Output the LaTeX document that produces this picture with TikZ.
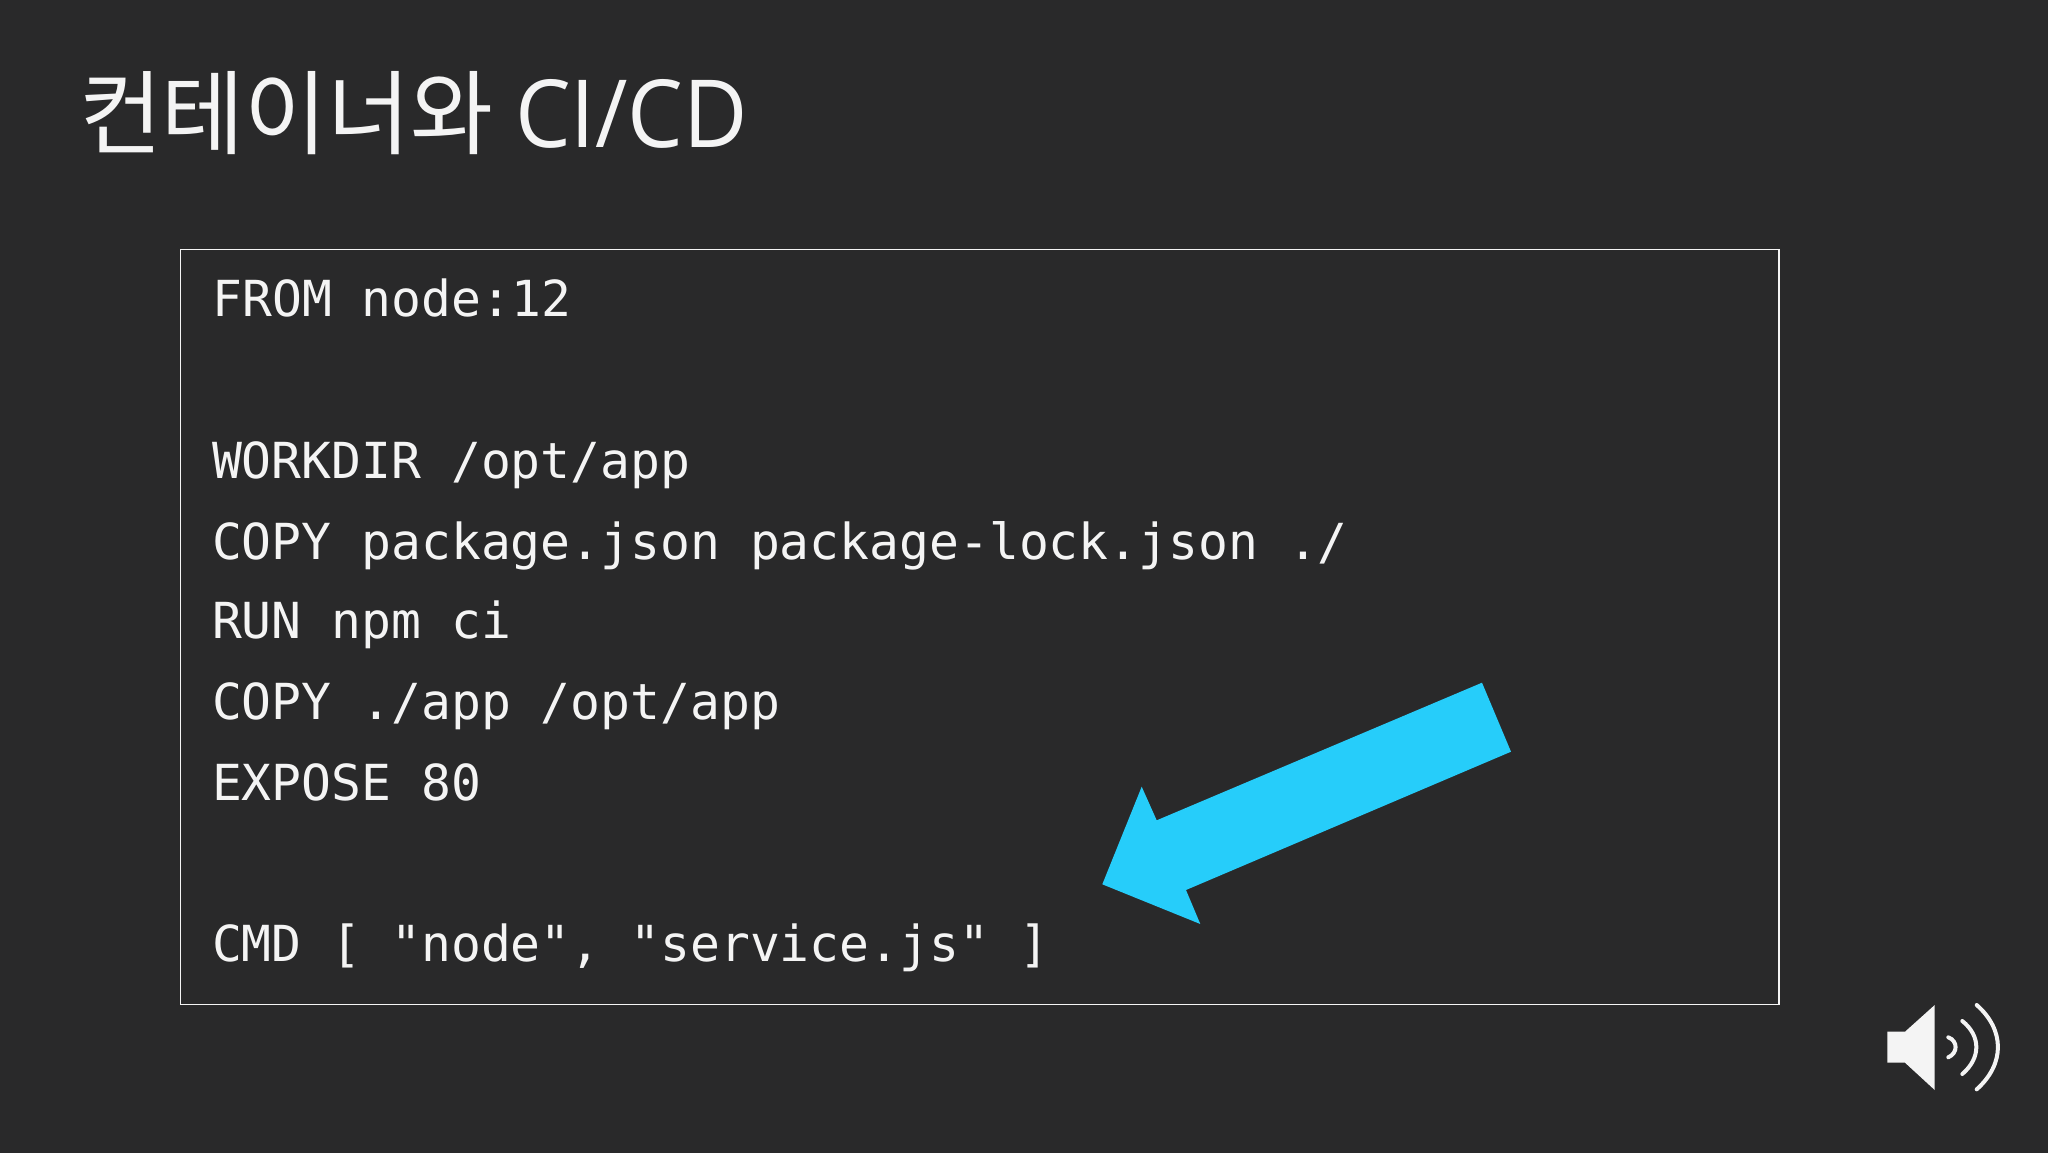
\documentclass[tikz,border=0pt]{standalone}
\usepackage{fontspec}
\newfontfamily\krfont{Noto Sans CJK KR}
\newfontfamily\latfont{Open Sans}
\newfontfamily\codefont{DejaVu Sans Mono}
\definecolor{bgc}{HTML}{29292A}
\definecolor{fgc}{HTML}{F4F4F4}
\definecolor{arrowc}{HTML}{26CDFA}
\tikzset{
  codeline/.style={anchor=base west,inner sep=0pt,outer sep=0pt,text=fgc,font=\fontsize{49.65pt}{50pt}\selectfont\codefont},
  titletext/.style={anchor=base west,inner sep=0pt,outer sep=0pt,text=fgc},
  wave/.style={draw=fgc,line width=4pt,line cap=round}
}
\begin{document}
\begin{tikzpicture}[x=1pt,y=-1pt]
\useasboundingbox (0,0) rectangle (2048,1152);
\fill[bgc] (-6,-6) rectangle (2054,1158);
\node[titletext,font=\fontsize{92pt}{92pt}\selectfont\krfont,xscale=0.98] (titlekr) at (79,147) {컨테이너와};
\node[titletext,font=\fontsize{94pt}{94pt}\selectfont\latfont,xscale=0.94] (titlelat) at (515,147) {CI/CD};
\draw[draw=fgc,line width=1.5pt] (180.5,249.5) rectangle (1779,1004.5);
\node[codeline] (l1) at (212.5,316.4) {FROM node:12};
\node[codeline] (l2) at (212,478.2) {WORKDIR /opt/app};
\node[codeline] (l3) at (212,559.2) {COPY package.json package-lock.json ./};
\node[codeline] (l4) at (212,638.9) {RUN npm ci};
\node[codeline] (l5) at (212,719.9) {COPY ./app /opt/app};
\node[codeline] (l6) at (212,800.8) {EXPOSE 80};
\node[codeline] (l7) at (212,961.2) {CMD [ "node", "service.js" ]};
\fill[arrowc] (1482,682.7) -- (1511,751.7) -- (1186,890) -- (1200.3,924) -- (1102.3,884.3) -- (1141.7,786.7) -- (1156.7,820.3) -- cycle;
\fill[fgc] (1887.3,1031.7) -- (1905,1031.7) -- (1934.7,1005) -- (1934.7,1090) -- (1905,1062.7) -- (1887.3,1062.7) -- cycle;
\draw[wave] (1948.3,1037.3) .. controls (1958,1041) and (1958,1053) .. (1948.3,1057.3);
\draw[wave] (1962.3,1021) .. controls (1981,1036) and (1981,1058) .. (1962.3,1074);
\draw[wave] (1976.7,1005) .. controls (2005,1030) and (2005,1064) .. (1976.7,1089.3);
\end{tikzpicture}
\end{document}
